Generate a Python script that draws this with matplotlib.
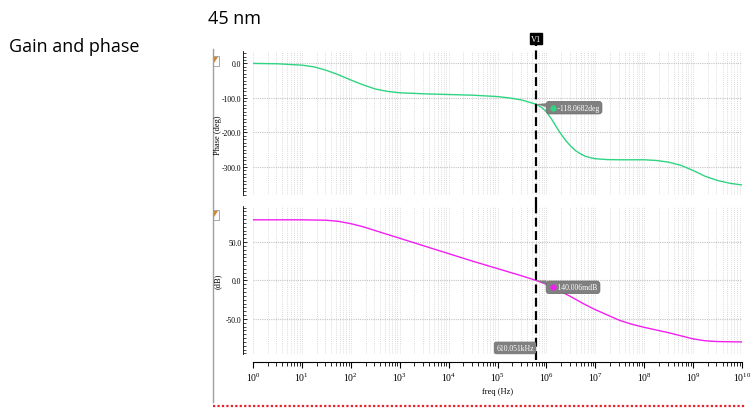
import numpy as np
import matplotlib.pyplot as plt
from matplotlib.lines import Line2D
from matplotlib.patches import Rectangle, Polygon
from matplotlib.transforms import offset_copy
from matplotlib.ticker import LogLocator, MultipleLocator, FormatStrFormatter

plt.rcParams['mathtext.fontset'] = 'stix'

# ac sweep, read on a log10(freq) grid
log_f_phase = [0, 0.5, 1.0, 1.25, 1.5, 1.75, 2.0, 2.25, 2.5, 2.75, 3.0, 3.5, 4.0, 4.5,
               5.0, 5.25, 5.5, 5.7854, 5.9, 6.0, 6.1, 6.2, 6.3, 6.4, 6.5, 6.6, 6.7,
               6.8, 6.9, 7.0, 7.25, 7.5, 8.0, 8.25, 8.5, 8.75, 9.0, 9.25, 9.5, 9.75, 10.0]
phase_deg = [0, -1, -5, -10, -20, -33, -48, -62, -74, -81, -85, -88, -90, -92,
             -96, -100, -106, -118.0682, -127, -140, -160, -183, -205, -224, -240, -253, -262,
             -269, -273, -276, -278.5, -279, -279, -281, -286, -295, -310, -327, -339, -347, -352]

log_f_gain = [0, 0.5, 1.0, 1.5, 1.75, 2.0, 2.25, 2.5, 2.75, 3.0, 3.5, 4.0, 4.5, 5.0,
              5.5, 5.7854, 6.0, 6.25, 6.5, 6.75, 7.0, 7.25, 7.5, 7.75, 8.0, 8.25, 8.5,
              8.75, 9.0, 9.25, 9.5, 10.0]
gain_db = [79, 79, 79, 78.5, 77, 74, 70, 65, 60, 55, 45, 35, 25, 15.5,
           6, 0.140006, -5, -13, -21, -30, -38, -45, -52, -57, -61, -64.5, -68,
           -72, -76, -78.5, -79.5, -80]

f_cursor = 610.051e3
phase_cursor = -118.0682
gain_cursor = 0.140006

phase_ticks = [0, -100, -200, -300]
gain_ticks = [50, 0, -50]

green = '#2fd483'
magenta = '#f21ff2'
grid_c = '#d0d0d0'
serif = 'Liberation Serif'

W, H = 751, 410
fig = plt.figure(figsize=(W / 100, H / 100), dpi=100)


def box(x0, y0, x1, y1):
    # pixel box (top-left origin) -> figure fraction rect
    return [x0 / W, 1 - y1 / H, (x1 - x0) / W, (y1 - y0) / H]


ax1 = fig.add_axes(box(253, 52, 742, 196))
ax2 = fig.add_axes(box(253, 207, 742, 355))

f_phase = 10 ** np.array(log_f_phase)
f_gain = 10 ** np.array(log_f_gain)
ax1.plot(f_phase, phase_deg, color=green, lw=1.0)
ax2.plot(f_gain, gain_db, color=magenta, lw=1.0)

for ax in (ax1, ax2):
    ax.set_xscale('log')
    ax.set_xlim(1, 1e10)
    ax.xaxis.set_major_locator(LogLocator(base=10, numticks=20))
    ax.xaxis.set_minor_locator(LogLocator(base=10, subs=np.arange(2, 10), numticks=200))
    for s in ('top', 'right'):
        ax.spines[s].set_visible(False)
    ax.spines['left'].set_position(('outward', 7))
    ax.spines['left'].set_linewidth(0.6)
    ax.grid(True, which='both', axis='x', color=grid_c, lw=0.6, ls=(0, (1, 1.5)))
    ax.grid(True, which='major', axis='y', color='#c4c4c4', lw=0.8, ls=(0, (1, 1)))
    ax.tick_params(axis='y', which='major', direction='in', length=3, width=0.6,
                   labelsize=5.5, pad=1.5)
    ax.tick_params(axis='y', which='minor', direction='in', length=2, width=0.5)
    ax.yaxis.set_major_formatter(FormatStrFormatter('%.1f'))
    ax.set_facecolor('none')

ax1.set_ylim(-381, 36)
ax1.set_yticks(phase_ticks)
ax1.yaxis.set_minor_locator(MultipleLocator(10))
ax1.spines['bottom'].set_visible(False)
ax1.tick_params(axis='x', which='both', bottom=False, labelbottom=False)

ax2.set_ylim(-95.7, 97)
ax2.set_yticks(gain_ticks)
ax2.yaxis.set_minor_locator(MultipleLocator(5))
ax2.spines['bottom'].set_position(('outward', 6))
ax2.spines['bottom'].set_linewidth(0.8)
ax2.tick_params(axis='x', which='major', direction='out', length=4, width=0.8,
                labelsize=7, pad=2)
ax2.tick_params(axis='x', which='minor', direction='out', length=3, width=0.6)
ax2.set_xlabel('freq (Hz)', fontsize=6, family=serif, labelpad=3)

for ax in (ax1, ax2):
    for lab in ax.get_yticklabels() + ax.get_xticklabels():
        lab.set_fontfamily(serif)

fig.text(218 / W, 1 - 135 / H, 'Phase (deg)', rotation=90, ha='center', va='center',
         fontsize=6, family=serif)
fig.text(218 / W, 1 - 281 / H, '(dB)', rotation=90, ha='center', va='center',
         fontsize=6, family=serif)

# cursor V1
ax1.axvline(f_cursor, ymin=-0.076, ymax=1.097, color='black', lw=1.6,
            ls=(0, (4, 2)), clip_on=False, zorder=5)
ax2.axvline(f_cursor, ymin=-0.04, ymax=1.0, color='black', lw=1.6,
            ls=(0, (4, 2)), clip_on=False, zorder=5)
ax1.annotate('V1', xy=(f_cursor, 1), xycoords=('data', 'axes fraction'),
             xytext=(0, 9), textcoords='offset points', ha='center', va='center',
             fontsize=6, family=serif, color='white', zorder=6,
             bbox=dict(boxstyle='square,pad=0.15', fc='black', ec='black'))

box_kw = dict(boxstyle='round,pad=0.3,rounding_size=0.4', fc='#808080', ec='#6a6a6a', lw=0.5)
arrow_kw = dict(arrowstyle='wedge,tail_width=0.5,shrink_factor=0.5', fc='#808080',
                ec='none', shrinkA=0, shrinkB=0)


def marker_label(ax, y, text, colour, dy):
    # grey readout box with a dot in the trace colour at its left end
    ax.annotate('     ' + text, xy=(f_cursor, y), xytext=(9, dy), textcoords='offset points',
                ha='left', va='center', fontsize=5.5, family=serif, color='white',
                zorder=7, bbox=box_kw, arrowprops=arrow_kw)
    tr = offset_copy(ax.transData, fig=fig, x=12, y=dy, units='points')
    ax.plot([f_cursor], [y], 'o', ms=4.5, color=colour, mec='none', transform=tr,
            zorder=8, clip_on=False)


marker_label(ax1, phase_cursor, f'{phase_cursor:.4f}deg', green, -2.5)
marker_label(ax2, gain_cursor, f'{gain_cursor * 1000:.3f}mdB', magenta, -5)

ax2.annotate(f'{f_cursor / 1000:.3f}kHz', xy=(f_cursor, 0), xycoords=('data', 'axes fraction'),
             xytext=(-1.5, 1.5), textcoords='offset points', ha='right', va='bottom',
             fontsize=5.5, family=serif, color='white', zorder=7,
             bbox=dict(boxstyle='round,pad=0.3,rounding_size=0.3', fc='#808080', ec='none'))

# slide frame bits
fig.add_artist(Line2D([213 / W, 213 / W], [1 - 50 / H, 1 - 403 / H], color='#a0a0a0', lw=1))
fig.add_artist(Line2D([213 / W, 745 / W], [1 - 407 / H, 1 - 407 / H], color='#e8202a',
                      lw=1.6, ls=(0, (1, 1))))
for ytop in (57, 211):
    fig.add_artist(Rectangle((213 / W, 1 - (ytop + 10) / H), 6 / W, 10 / H,
                             transform=fig.transFigure, fc='white', ec='#9a9a9a', lw=0.6))
    fig.add_artist(Polygon([[213.5 / W, 1 - (ytop + 1) / H], [218 / W, 1 - (ytop + 1) / H],
                            [214 / W, 1 - (ytop + 7) / H], [213.5 / W, 1 - (ytop + 7) / H]],
                           closed=True, transform=fig.transFigure, fc='#d9822b', ec='none'))

fig.text(208 / W, 1 - 19 / H, '45 nm', fontsize=13, family='Open Sans', va='center', ha='left')
fig.text(9 / W, 1 - 47 / H, 'Gain and phase', fontsize=13, family='Open Sans',
         va='center', ha='left')

fig.savefig('out.png', dpi=100)
